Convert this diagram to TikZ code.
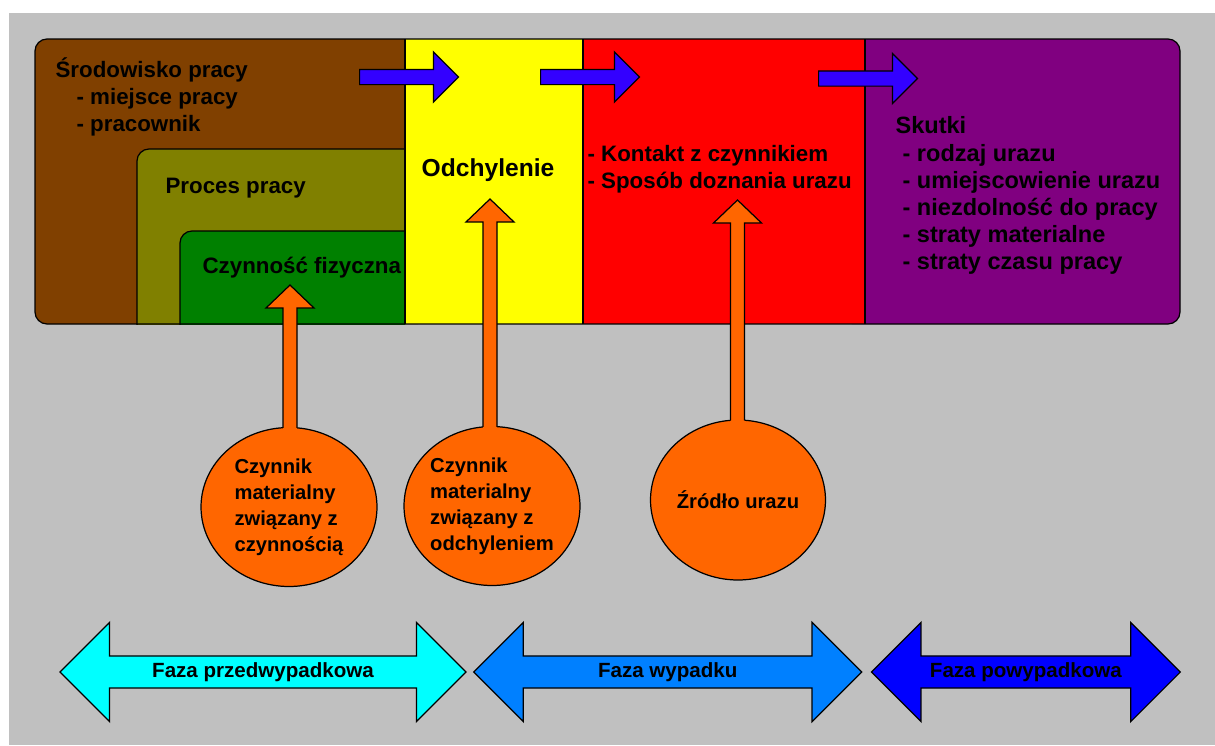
\documentclass[tikz,border=0pt]{standalone}
\usepackage{fontspec}
\setmainfont{Liberation Sans}
\usetikzlibrary{positioning}
\usetikzlibrary{calc}
\usetikzlibrary{shapes.geometric}
\usetikzlibrary{shapes.arrows}

\definecolor{bgray}{HTML}{C0C0C0}
\definecolor{brownc}{HTML}{804000}
\definecolor{olivec}{HTML}{808000}
\definecolor{greenc}{HTML}{008000}
\definecolor{yellowc}{HTML}{FFFF00}
\definecolor{redc}{HTML}{FF0000}
\definecolor{purplec}{HTML}{800080}
\definecolor{flowc}{HTML}{3300FF}
\definecolor{orangec}{HTML}{FF6600}
\definecolor{cyanc}{HTML}{00FFFF}
\definecolor{azurec}{HTML}{0080FF}
\definecolor{bluec}{HTML}{0000FF}

\begin{document}
\begin{tikzpicture}[x=0.02cm, y=-0.02cm, line width=0.7pt]
  \tikzset{
    txt/.style={inner sep=0pt, anchor=base west, font=\bfseries\fontsize{12.7}{15}\selectfont},
    skut/.style={txt, font=\bfseries\fontsize{13.4}{16}\selectfont},
    source/.style={ellipse, draw, fill=orangec, inner sep=0pt, minimum width=3.52cm,
      minimum height=3.18cm, align=left, font=\bfseries\fontsize{11.5}{14.8}\selectfont},
    flow/.style={single arrow, draw, fill=flowc, anchor=west, minimum height=1.98cm,
      inner ysep=0.14cm, inner xsep=0pt, text height=0pt, text depth=0pt,
      single arrow head extend=0.35cm, single arrow tip angle=90},
    phase/.style={double arrow, draw, double arrow head extend=0.67cm, double arrow tip angle=90,
      text height=8.5pt, text depth=2.5pt, inner ysep=3.3pt, inner xsep=0pt,
      font=\bfseries\fontsize{11.7}{14}\selectfont},
  }
  \useasboundingbox (0,0) rectangle (1215,745);
  \fill[white] (0,0) rectangle (1215,745);
  \fill[bgray] (9,13) rectangle (1215,745);

  % panels
  \fill[brownc, rounded corners=0.24cm] (35,39) rectangle (430,324);
  \begin{scope}
    \clip (35,39) rectangle (405,324);
    \draw[fill=olivec, rounded corners=0.24cm] (137,149) rectangle (440,360);
    \draw[fill=greenc, rounded corners=0.24cm] (180,231) rectangle (440,360);
  \end{scope}
  \fill[purplec, rounded corners=0.24cm] (840,39) rectangle (1180,324);
  \fill[yellowc] (405,39) rectangle (583,324);
  \fill[redc] (583,39) rectangle (865,324);
  \draw[rounded corners=0.24cm] (35,39) rectangle (1180,324);
  \draw (405,39) -- (405,324) (583,39) -- (583,324) (865,39) -- (865,324);

  % texts
  \node[txt] (srod) at (55,77) {Środowisko pracy};
  \node[txt] (srod1) at (76,104) {- miejsce pracy};
  \node[txt] (srod2) at (76,131) {- pracownik};
  \node[txt] (proc) at (165,193) {Proces pracy};
  \node[txt] (czyn) at (202,273) {Czynność fizyczna};
  \node[txt, anchor=base, font=\bfseries\fontsize{14}{16}\selectfont] (odch) at (488,176) {Odchylenie};
  \node[txt] (kont) at (587,161) {- Kontakt z czynnikiem};
  \node[txt] (spos) at (587,188) {- Sposób doznania urazu};
  \node[skut] (skut) at (895,133) {Skutki};
  \foreach \t [count=\i] in {- rodzaj urazu, - umiejscowienie urazu, - niezdolność do pracy,
      - straty materialne, - straty czasu pracy}
    \node[skut] (skut\i) at (902,133.8+27.2*\i) {\t};

  % flow arrows
  \node[flow] (fl1) at (359,77) {};
  \node[flow] (fl2) at (540,77) {};
  \node[flow] (fl3) at (818,78.5) {};

  % sources
  \node[source] (c1) at (289,507) {Czynnik\\materialny\\związany z\\czynnością};
  \node[source] (c2) at (492,506) {Czynnik\\materialny\\związany z\\odchyleniem};
  \node[source, minimum width=3.5cm, minimum height=3.2cm] (c3) at (738,500) {Źródło urazu};

  \coordinate (t1) at (290,285);
  \coordinate (t2) at (490,199);
  \coordinate (t3) at (737.5,200);
  \foreach \i in {1,2,3} {
    \fill[orangec] ($(t\i|-c\i.north)+(-7,4)$) |- ($(t\i)+(-24,23)$) -- (t\i)
      -- ($(t\i)+(24,23)$) -| ($(t\i|-c\i.north)+(7,4)$) -- cycle;
    \draw ($(t\i|-c\i.north)+(-7,1)$) |- ($(t\i)+(-24,23)$) -- (t\i)
      -- ($(t\i)+(24,23)$) -| ($(t\i|-c\i.north)+(7,1)$);
  }

  % phases
  \node[phase, fill=cyanc, minimum height=8.12cm] (ph1) at (263,672) {Faza przedwypadkowa};
  \node[phase, fill=azurec, minimum height=7.76cm, right=0.12cm of ph1] (ph2) {Faza wypadku};
  \node[phase, fill=bluec, minimum height=6.18cm, right=0.16cm of ph2] (ph3) {Faza powypadkowa};
\end{tikzpicture}
\end{document}
